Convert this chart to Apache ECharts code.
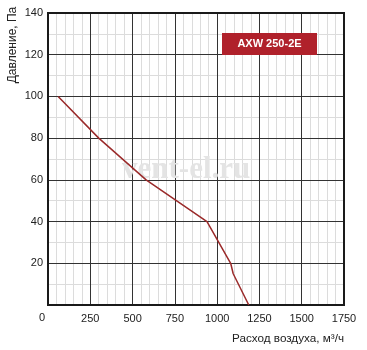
<!DOCTYPE html>
<html>
<head>
<meta charset="utf-8">
<style>html,body{margin:0;padding:0;background:#fff}#c{width:367px;height:350px}</style>
<script src="https://cdn.jsdelivr.net/npm/echarts@6/dist/echarts.min.js"></script>
</head>
<body>
<div id="c"></div>
<script>
const airflow = [60, 300, 580, 940, 1080, 1095, 1187];
const pressure = [100, 80, 60, 40, 20, 15, 0];
const xTicks = [0, 250, 500, 750, 1000, 1250, 1500, 1750];
const yTicks = [0, 20, 40, 60, 80, 100, 120, 140];
const modelName = 'AXW 250-2E';
const xName = 'Расход воздуха, м³/ч';
const yName = 'Давление, Па';

const chart = echarts.init(document.getElementById('c'), null, {renderer: 'canvas'});
const font = 'Liberation Sans, Arial, Helvetica, sans-serif';
const xMin = xTicks[0], xMax = xTicks[xTicks.length - 1];
const yMin = yTicks[0], yMax = yTicks[yTicks.length - 1];
chart.setOption({
  animation: false,
  backgroundColor: '#fff',
  grid: {left: 48, right: 23, top: 13, bottom: 45, show: true, borderColor: '#1a1a1a', borderWidth: 2, z: 5},
  xAxis: [{
    type: 'value', min: xMin, max: xMax, interval: 250, z: 0,
    axisLine: {show: false}, axisTick: {show: false}, axisLabel: {show: false},
    splitLine: {show: false},
    minorTick: {show: false, splitNumber: 5},
    minorSplitLine: {show: true, lineStyle: {color: '#dcdcdc', width: 1}}
  }, {
    type: 'value', min: xMin, max: xMax, interval: 250, z: 2, position: 'bottom',
    axisLine: {show: false}, axisTick: {show: false},
    axisLabel: {color: '#222', fontSize: 11, fontFamily: font, margin: 8, showMinLabel: false,
      formatter: v => String(v)},
    splitLine: {show: true, lineStyle: {color: '#333', width: 1}}
  }],
  yAxis: [{
    type: 'value', min: yMin, max: yMax, interval: 20, z: 0,
    axisLine: {show: false}, axisTick: {show: false}, axisLabel: {show: false},
    splitLine: {show: false},
    minorTick: {show: false, splitNumber: 2},
    minorSplitLine: {show: true, lineStyle: {color: '#dcdcdc', width: 1}}
  }, {
    type: 'value', min: yMin, max: yMax, interval: 20, z: 2, position: 'left',
    axisLine: {show: false}, axisTick: {show: false},
    axisLabel: {color: '#222', fontSize: 11, fontFamily: font, margin: 5, showMinLabel: false,
      formatter: v => String(v)},
    splitLine: {show: true, lineStyle: {color: '#333', width: 1}}
  }],
  graphic: [
    {type: 'text', x: 122, y: 170, z: 3, silent: true,
      style: {text: 'vent-el.ru', fill: '#e4e4e4', font: 'bold 31px "Liberation Serif", "DejaVu Serif", serif', verticalAlign: 'middle'}},
    {type: 'rect', shape: {x: 222, y: 33, width: 95, height: 22}, z: 10, style: {fill: '#b0212b'}},
    {type: 'text', x: 269.5, y: 44, z: 11,
      style: {text: modelName, fill: '#fff', font: 'bold 11px ' + font, align: 'center', verticalAlign: 'middle'}},
    {type: 'text', x: 42, y: 318, z: 11,
      style: {text: '0', fill: '#222', font: '11px ' + font, align: 'center', verticalAlign: 'middle'}},
    {type: 'text', x: 344, y: 339, z: 11,
      style: {text: xName, fill: '#222', font: '11.7px ' + font, align: 'right', verticalAlign: 'middle'}},
    {type: 'text', x: 13, y: 45, rotation: Math.PI / 2, z: 11,
      style: {text: yName, fill: '#222', font: '12px ' + font, align: 'center', verticalAlign: 'middle'}}
  ],
  series: [{
    type: 'line', xAxisIndex: 1, yAxisIndex: 1,
    data: airflow.map((x, i) => [x, pressure[i]]),
    showSymbol: false, symbol: 'none', z: 8,
    lineStyle: {color: '#9a2a2a', width: 1.5}
  }]
});
</script>
</body>
</html>
